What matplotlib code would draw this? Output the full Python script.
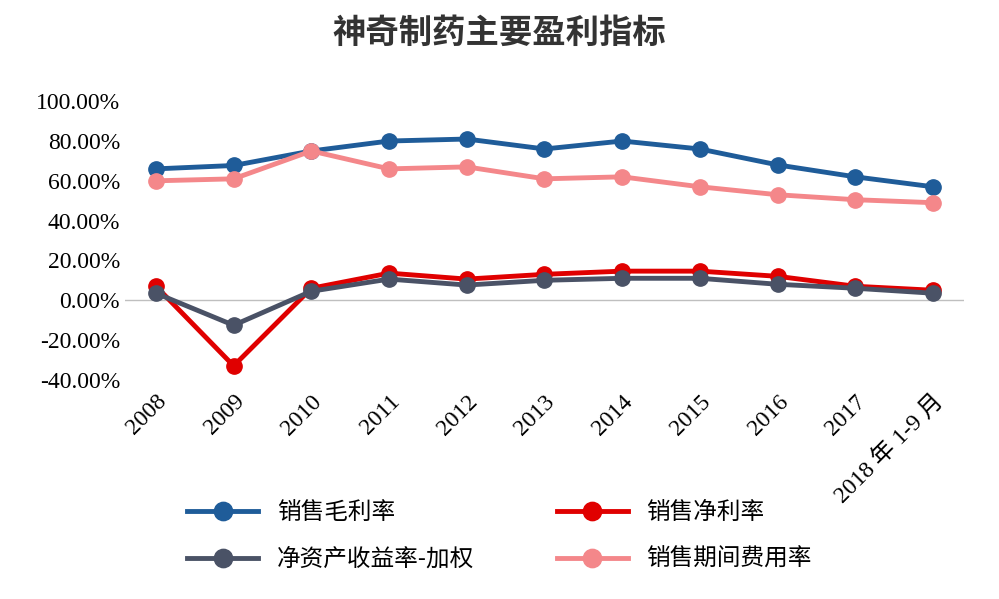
import matplotlib
matplotlib.use("Agg")
import matplotlib.pyplot as plt
from matplotlib.ticker import FuncFormatter

plt.rcParams['font.family'] = ['Liberation Serif', 'Noto Sans CJK SC', 'DejaVu Sans']

years = ['2008', '2009', '2010', '2011', '2012', '2013', '2014', '2015', '2016', '2017', '2018 年 1-9 月']
gross = [66, 67.7, 75, 80, 81, 76, 80, 76, 68, 62, 57]
net = [7, -33, 6, 13.6, 10.6, 13, 14.6, 14.6, 12, 7, 5]
roe = [3.5, -12.6, 4.5, 10.6, 7.6, 10, 11, 11, 8, 6, 3.5]
expense = [60, 61, 75, 66, 67, 61, 62, 57, 53, 50.5, 49]

series = [
    ('销售毛利率', gross, '#1f5c99'),
    ('销售净利率', net, '#e00000'),
    ('净资产收益率-加权', roe, '#4a5266'),
    ('销售期间费用率', expense, '#f4878a'),
]

fig = plt.figure(figsize=(9.99, 5.99), dpi=100)
ax = fig.add_axes([0.125, 0.366, 0.84, 0.465])
x = range(len(years))
for name, vals, color in series:
    ax.plot(x, vals, color=color, lw=3.5, marker='o', ms=11, label=name)

ax.set_ylim(-40, 100)
ax.set_yticks(range(-40, 101, 20))
ax.yaxis.set_major_formatter(FuncFormatter(lambda v, p: f'{v:.2f}%'))
ax.set_xlim(-0.4, len(years) - 0.6)
ax.set_xticks(list(x))
ax.set_xticklabels(years, rotation=45, ha='right', rotation_mode='anchor', fontsize=17)
ax.tick_params(axis='y', labelsize=17, length=0)
ax.tick_params(axis='x', length=0, pad=8)
for s in ['top', 'right', 'left', 'bottom']:
    ax.spines[s].set_visible(False)
ax.axhline(0, color='#bfbfbf', lw=1, zorder=0)

fig.text(0.5, 0.945, '神奇制药主要盈利指标', ha='center', va='center', fontsize=24,
         family=['Noto Sans CJK SC'], weight='bold', color='#333333')

handles, labels = ax.get_legend_handles_labels()
order = [0, 2, 1, 3]  # row-wise fill like the reference
fig.legend([handles[i] for i in order], [labels[i] for i in order], loc='center',
           bbox_to_anchor=(0.5, 0.105), ncol=2, frameon=False,
           prop={'family': 'Noto Sans CJK SC', 'size': 17},
           columnspacing=3.5, handlelength=3, labelspacing=1.0, markerscale=1.2)

fig.savefig('out.png', dpi=100)
